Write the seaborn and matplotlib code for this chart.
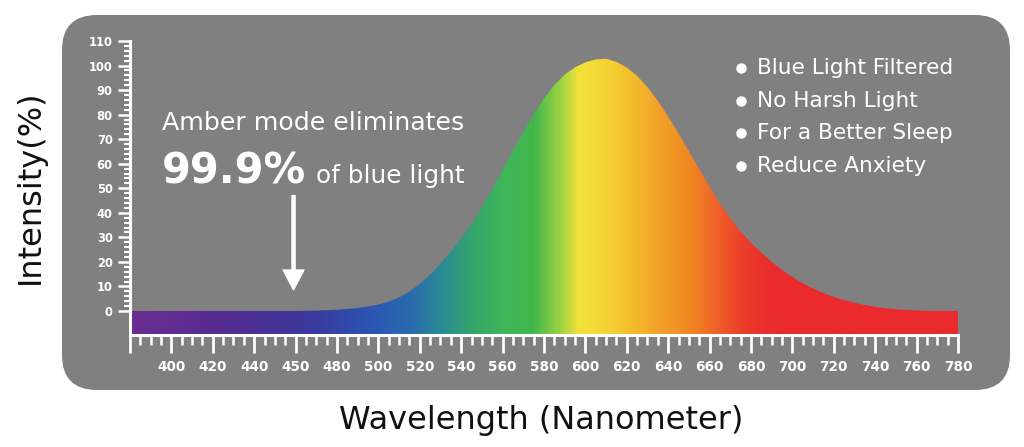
import numpy as np
import matplotlib
matplotlib.use("Agg")
import matplotlib.pyplot as plt
import seaborn as sns
from matplotlib.patches import FancyBboxPatch
from matplotlib.colors import LinearSegmentedColormap
from matplotlib.ticker import FixedLocator

# ---------------- data ----------------
wavelength = [380, 385, 390, 395, 400, 405, 410, 415, 420, 425, 430, 435, 440, 445,
              450, 455, 460, 465, 470, 475, 480, 485, 490, 495, 500, 505, 510, 515,
              520, 525, 530, 535, 540, 545, 550, 555, 560, 565, 570, 575, 580, 585,
              590, 595, 600, 605, 610, 615, 620, 625, 630, 635, 640, 645, 650, 655,
              660, 665, 670, 675, 680, 685, 690, 695, 700, 705, 710, 715, 720, 725,
              730, 735, 740, 745, 750, 755, 760, 765, 770, 775, 780]
intensity = [0, 0, 0, 0, 0, 0, 0, 0, 0, 0, 0, 0, 0, 0,
             0, 0, 0, 0.05, 0.15, 0.3, 0.5, 0.8, 1.2, 1.8, 2.6, 3.8, 5.5, 7.9,
             11.0, 14.8, 19.3, 24.2, 29.5, 35.4, 42.2, 49.7, 57.5, 65.3, 72.9, 80.1, 86.6, 92.1,
             96.3, 99.3, 101.3, 102.5, 102.8, 101.5, 99.2, 95.8, 91.2, 85.6, 79.2, 72.3, 65.1, 57.8,
             50.6, 43.8, 37.7, 32.4, 27.8, 23.7, 20.0, 16.7, 13.8, 11.3, 9.1, 7.3, 5.7, 4.4,
             3.3, 2.4, 1.7, 1.1, 0.7, 0.4, 0.2, 0.05, 0, 0, 0]

x_major = [380, 400, 420, 440, 460, 480, 500, 520, 540, 560, 580, 600, 620, 640,
           660, 680, 700, 720, 740, 760, 780]
x_labels = ["", "400", "420", "440", "450", "480", "500", "520", "540", "560", "580",
            "600", "620", "640", "660", "680", "700", "720", "740", "760", "780"]
y_major = [0, 10, 20, 30, 40, 50, 60, 70, 80, 90, 100, 110]

spectrum_nm = [380, 430, 470, 495, 515, 530, 545, 560, 575, 586, 597, 607, 620, 637,
               652, 664, 677, 692, 780]
spectrum_col = ["#6a2c90", "#512d92", "#3a3a9e", "#2b55b2", "#2a6aad", "#2a8a96",
                "#35a56c", "#3db55a", "#42b74c", "#8dcf43", "#f2e23a", "#f5d935",
                "#f4c22e", "#f3a028", "#f18622", "#ef6128", "#ec3c2b", "#ea2a2d",
                "#ea2a2d"]

bullets = ["Blue Light Filtered", "No Harsh Light", "For a Better Sleep", "Reduce Anxiety"]

# ---------------- figure ----------------
sns.set_style("white")
plt.rcParams["font.family"] = ["DejaVu Sans"]

W, H = 1024, 447
fig = plt.figure(figsize=(W / 100, H / 100), dpi=100)
fig.patch.set_facecolor("white")

# pixel-space background axes
bg = fig.add_axes([0, 0, 1, 1], zorder=0)
bg.set_xlim(0, W)
bg.set_ylim(H, 0)
bg.axis("off")
panel = FancyBboxPatch((62 + 35, 15 + 35), 1010 - 62 - 70, 390 - 15 - 70,
                       boxstyle="round,pad=35", facecolor="#808080", edgecolor="none")
bg.add_patch(panel)

# main axes
ymin = -9.8
ax = fig.add_axes([130 / W, (H - 335) / H, (958 - 130) / W, (335 - 41) / H], zorder=2)
ax.patch.set_alpha(0)
ax.set_xlim(380, 780)
ax.set_ylim(ymin, 110)

sns.lineplot(x=wavelength, y=intensity, ax=ax, linewidth=0, color="#808080")
poly = ax.fill_between(wavelength, ymin, intensity, facecolor="none", edgecolor="none")

nm_min, nm_max = 380, 780
stops = [(v - nm_min) / (nm_max - nm_min) for v in spectrum_nm]
cmap = LinearSegmentedColormap.from_list("spec", list(zip(stops, spectrum_col)))
grad = np.linspace(0, 1, 800).reshape(1, -1)
img = ax.imshow(grad, cmap=cmap, extent=[380, 780, ymin, 110], aspect="auto",
                origin="lower", zorder=1, interpolation="bicubic")
img.set_clip_path(poly.get_paths()[0], transform=ax.transData)
ax.set_xlim(380, 780)
ax.set_ylim(ymin, 110)

# spines
for s in ["top", "right"]:
    ax.spines[s].set_visible(False)
for s in ["left", "bottom"]:
    ax.spines[s].set_color("white")
    ax.spines[s].set_linewidth(2.2)
    ax.spines[s].set_zorder(3)

# ticks
ax.xaxis.set_major_locator(FixedLocator(x_major))
ax.set_xticklabels(x_labels)
ax.xaxis.set_minor_locator(FixedLocator([v for v in range(380, 781, 5) if v % 20 != 0]))
ax.yaxis.set_major_locator(FixedLocator(y_major))
ax.set_yticklabels([str(v) for v in y_major])
ax.yaxis.set_minor_locator(FixedLocator([v for v in range(0, 111, 2) if v % 10 != 0]))

ax.tick_params(which="both", bottom=True, left=True, top=False, right=False)
ax.tick_params(axis="x", which="major", direction="out", length=13, width=2.0,
               color="white", labelcolor="white", labelsize=9.8, pad=5)
ax.tick_params(axis="x", which="minor", direction="out", length=7, width=1.8,
               color="white")
ax.tick_params(axis="y", which="major", direction="out", length=9, width=1.8,
               color="white", labelcolor="white", labelsize=8.3, pad=3.5)
ax.tick_params(axis="y", which="minor", direction="out", length=4.5, width=1.5,
               color="white")
for lab in ax.get_xticklabels() + ax.get_yticklabels():
    lab.set_fontweight("bold")

ax.set_xlabel("")
ax.set_ylabel("")

# axis titles (pixel space)
bg.text(30, 187, "Intensity(%)", rotation=90, ha="center", va="center",
        fontsize=23, color="#111111")
bg.text(541, 420, "Wavelength (Nanometer)", ha="center", va="center",
        fontsize=23, color="#111111")

# annotation texts
bg.text(162, 130, "Amber mode eliminates", ha="left", va="baseline",
        fontsize=18.2, color="white")
bg.text(162, 183, "99.9%", ha="left", va="baseline", fontsize=30,
        fontweight="bold", color="white")
bg.text(316, 183, "of blue light", ha="left", va="baseline", fontsize=17.8,
        color="white")

ax.annotate("", xy=(459, 8.6), xytext=(459, 47),
            arrowprops=dict(arrowstyle="simple,head_length=0.95,head_width=1.0,tail_width=0.15",
                            color="white", mutation_scale=15, shrinkA=0, shrinkB=0),
            zorder=4)

# bullet list
for i, t in enumerate(bullets):
    yy = 68 + i * 32.7
    bg.plot(741, yy, "o", color="white", markersize=6.5)
    bg.text(757, yy, t, ha="left", va="center", fontsize=15.6, color="white")

fig.savefig("out.png", dpi=100, facecolor="white")
